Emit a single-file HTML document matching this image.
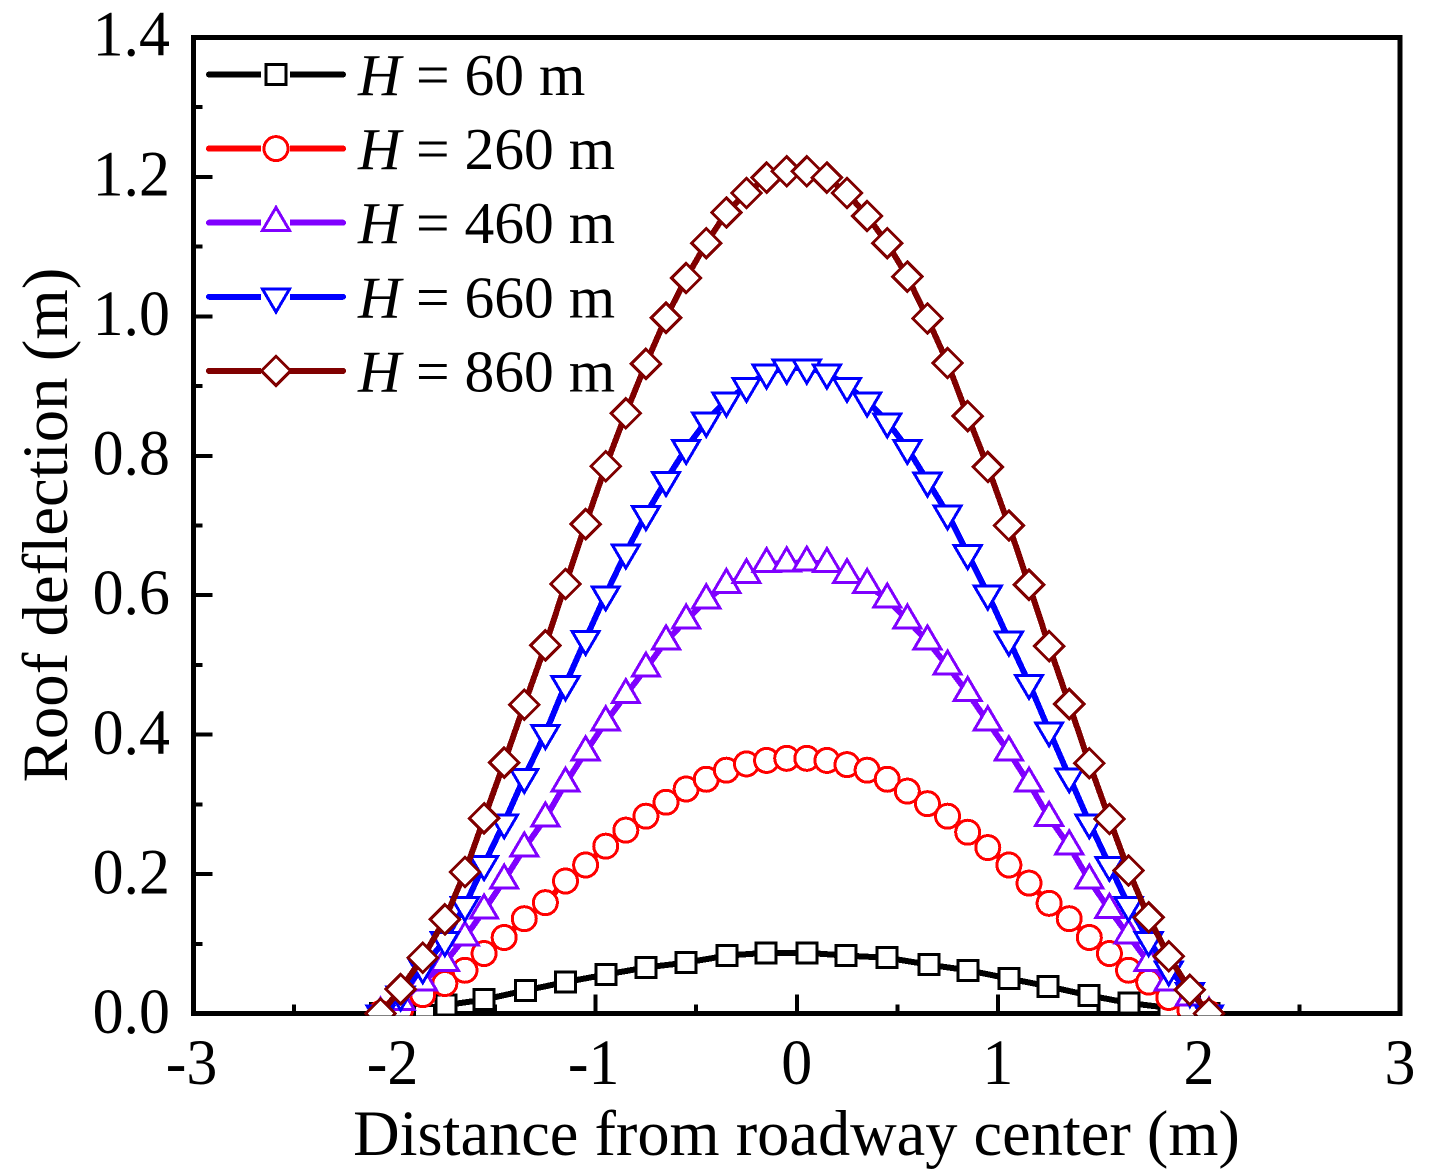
<!DOCTYPE html>
<html>
<head>
<meta charset="utf-8">
<title>Roof deflection chart</title>
<style>
html,body{margin:0;padding:0;background:#fff;}
svg{display:block;shape-rendering:crispEdges;}
text{font-family:"Liberation Serif",serif;fill:#000;}
</style>
</head>
<body>
<svg id="chart" xmlns="http://www.w3.org/2000/svg" width="1436" height="1176" viewBox="0 0 1436 1176">
  <defs><clipPath id="plot-clip"><rect x="190" y="35" width="1213" height="980.5"/></clipPath></defs>
  <rect x="0" y="0" width="1436" height="1176" fill="#fff"/>
  <g id="ticks"></g>
  <rect x="193.5" y="37.5" width="1206.5" height="976" fill="none" stroke="#000" stroke-width="5"/>
  <g id="series" clip-path="url(#plot-clip)"></g>
  <text x="796.5" y="1155" text-anchor="middle" font-size="64.4">Distance from roadway center (m)</text>
  <text transform="translate(67,525) rotate(-90)" text-anchor="middle" font-size="64.8">Roof deflection (m)</text>
  <g id="legend"></g>
</svg>
<script>
const yTickValues = [0, 0.2, 0.4, 0.6, 0.8, 1.0, 1.2, 1.4];
const yTickLabels = ["0.0", "0.2", "0.4", "0.6", "0.8", "1.0", "1.2", "1.4"];
const yMinorValues = [0.1, 0.3, 0.5, 0.7, 0.9, 1.1, 1.3];
const xTickValues = [-3, -2, -1, 0, 1, 2, 3];
const xTickLabels = ["-3", "-2", "-1", "0", "1", "2", "3"];
const xMinorValues = [-2.5, -1.5, -0.5, 0.5, 1.5, 2.5];

const distances = [-2.07,-1.97,-1.86,-1.75,-1.65,-1.555,-1.455,-1.355,-1.25,-1.15,-1.05,-0.95,-0.85,-0.75,-0.65,-0.55,-0.45,-0.35,-0.25,-0.15,-0.05,0.05,0.15,0.25,0.35,0.45,0.55,0.65,0.75,0.85,0.95,1.055,1.155,1.255,1.355,1.455,1.555,1.65,1.75,1.85,1.955,2.05];
const distances60 = [-2.07,-1.85,-1.745,-1.555,-1.35,-1.15,-0.948,-0.749,-0.55,-0.347,-0.153,0.05,0.245,0.449,0.657,0.852,1.056,1.25,1.453,1.652,1.851,2.05];

const deflection60 = [0,-0.003,0.012,0.02,0.033,0.045,0.056,0.066,0.073,0.083,0.087,0.087,0.083,0.08,0.07,0.062,0.05,0.039,0.026,0.015,0.008,0];
const deflection260 = [0,0.005,0.027,0.043,0.062,0.086,0.109,0.136,0.159,0.19,0.213,0.24,0.263,0.283,0.303,0.322,0.336,0.349,0.358,0.363,0.366,0.366,0.363,0.357,0.349,0.336,0.319,0.301,0.283,0.26,0.238,0.213,0.187,0.158,0.136,0.109,0.086,0.062,0.045,0.023,0.005,0];
const deflection460 = [0,0.017,0.045,0.073,0.109,0.148,0.191,0.237,0.28,0.33,0.375,0.418,0.457,0.495,0.534,0.564,0.593,0.615,0.629,0.645,0.646,0.647,0.645,0.629,0.615,0.594,0.564,0.534,0.498,0.46,0.418,0.375,0.33,0.281,0.24,0.191,0.149,0.112,0.073,0.045,0.023,0];
const deflection660 = [0,0.027,0.066,0.105,0.155,0.214,0.274,0.339,0.402,0.472,0.537,0.601,0.661,0.716,0.765,0.811,0.85,0.879,0.9,0.919,0.926,0.926,0.919,0.9,0.879,0.849,0.811,0.764,0.717,0.66,0.602,0.536,0.474,0.406,0.34,0.274,0.213,0.155,0.105,0.063,0.032,0];
const deflection860 = [0,0.035,0.08,0.135,0.203,0.28,0.36,0.443,0.528,0.616,0.702,0.785,0.861,0.932,0.998,1.055,1.105,1.149,1.177,1.199,1.208,1.208,1.199,1.177,1.144,1.105,1.057,0.997,0.933,0.857,0.784,0.7,0.615,0.527,0.444,0.359,0.279,0.205,0.138,0.082,0.034,0];

const seriesLabels = ["60", "260", "460", "660", "860"];

const NS = "http://www.w3.org/2000/svg";
const X0 = 193.5, X1 = 1400, Y0 = 1013.5, Y1 = 37.5;
function xScale(v) { return X0 + (v + 3) / 6 * (X1 - X0); }
function yScale(v) { return Y0 - v / 1.4 * (Y0 - Y1); }

function make(tag, parent, props) {
  const el = document.createElementNS(NS, tag);
  for (const k in props) el.setAttribute(k, props[k]);
  parent.appendChild(el);
  return el;
}

function drawMarker(parent, shape, color, cx, cy) {
  const style = { fill: "#fff", stroke: color, "stroke-width": 3 };
  let el;
  if (shape === "square") {
    el = make("rect", parent, Object.assign({ x: cx - 10, y: cy - 10, width: 20, height: 20 }, style));
  } else if (shape === "circle") {
    el = make("circle", parent, Object.assign({ cx: cx, cy: cy, r: 12 }, style));
  } else if (shape === "up") {
    el = make("polygon", parent, Object.assign({ points: (cx) + "," + (cy - 15.3) + " " + (cx + 13.5) + "," + (cy + 7.7) + " " + (cx - 13.5) + "," + (cy + 7.7) }, style));
  } else if (shape === "down") {
    el = make("polygon", parent, Object.assign({ points: (cx) + "," + (cy + 15.3) + " " + (cx + 13.5) + "," + (cy - 7.7) + " " + (cx - 13.5) + "," + (cy - 7.7) }, style));
  } else {
    el = make("polygon", parent, Object.assign({ points: cx + "," + (cy - 14.7) + " " + (cx + 14.7) + "," + cy + " " + cx + "," + (cy + 14.7) + " " + (cx - 14.7) + "," + cy }, style));
  }
  return el;
}

const ticksGroup = document.getElementById("ticks");
yTickValues.forEach(function (v, i) {
  const t = make("line", ticksGroup, { x1: X0, x2: X0 + 19, y1: yScale(v), y2: yScale(v), stroke: "#000", "stroke-width": 4 });
  
  
  const lab = make("text", ticksGroup, { transform: "translate(170," + (yScale(v) + 19.5 - v * 0.9) + ") scale(0.96,1)", "text-anchor": "end", "font-size": 64.5 });
  lab.textContent = yTickLabels[i];
  
  
});
yMinorValues.forEach(function (v) {
  const t = make("line", ticksGroup, { x1: X0, x2: X0 + 9, y1: yScale(v), y2: yScale(v), stroke: "#000", "stroke-width": 4 });
  
  
});
xTickValues.forEach(function (v, i) {
  const t = make("line", ticksGroup, { x1: xScale(v), x2: xScale(v), y1: Y0, y2: Y0 - 19, stroke: "#000", "stroke-width": 4 });
  
  
  const lab = make("text", ticksGroup, { transform: "translate(" + (xScale(v) - (v < 0 ? 2 : 0)) + ",1084) scale(0.96,1)", "text-anchor": "middle", "font-size": 64.5 });
  lab.textContent = xTickLabels[i];
  
  
});
xMinorValues.forEach(function (v) {
  const t = make("line", ticksGroup, { x1: xScale(v), x2: xScale(v), y1: Y0, y2: Y0 - 9, stroke: "#000", "stroke-width": 4 });
  
  
});

const colors = ["#000000", "#ff0000", "#8000ff", "#0000ff", "#800000"];
const shapes = ["square", "circle", "up", "down", "diamond"];
const xSets = [distances60, distances, distances, distances, distances];
const ySets = [deflection60, deflection260, deflection460, deflection660, deflection860];

const seriesRoot = document.getElementById("series");
ySets.forEach(function (vals, s) {
  const g = make("g", seriesRoot, {});
  
  
  const xs = xSets[s];
  const pts = vals.map(function (v, i) { return xScale(xs[i]).toFixed(1) + "," + yScale(v).toFixed(1); }).join(" ");
  const line = make("polyline", g, { points: pts, fill: "none", stroke: colors[s], "stroke-width": 6, "stroke-linejoin": "round" });
  
  
  vals.forEach(function (v, i) {
    const m = drawMarker(g, shapes[s], colors[s], xScale(xs[i]), yScale(v));
    
    
  });
});

const legendRoot = document.getElementById("legend");
seriesLabels.forEach(function (label, s) {
  const rowY = 74.5 + s * 74.1;
  const row = make("g", legendRoot, {});
  
  
  const sample = make("line", row, { x1: 209, x2: 343, y1: rowY, y2: rowY, stroke: colors[s], "stroke-width": 6, "stroke-linecap": "round" });
  
  
  const gap = make("rect", row, { x: 261, y: rowY - 6, width: 29, height: 12, fill: "#fff" });
  
  
  const mk = drawMarker(row, shapes[s], colors[s], 276, rowY);
  
  
  const txt = make("text", row, { x: 358, y: rowY + 20.5, "font-size": 59.6 });
  
  
  const it = make("tspan", txt, { "font-style": "italic" });
  it.textContent = "H";
  const rest = make("tspan", txt, {});
  rest.textContent = " = " + label + " m";
});
</script>
</body>
</html>
